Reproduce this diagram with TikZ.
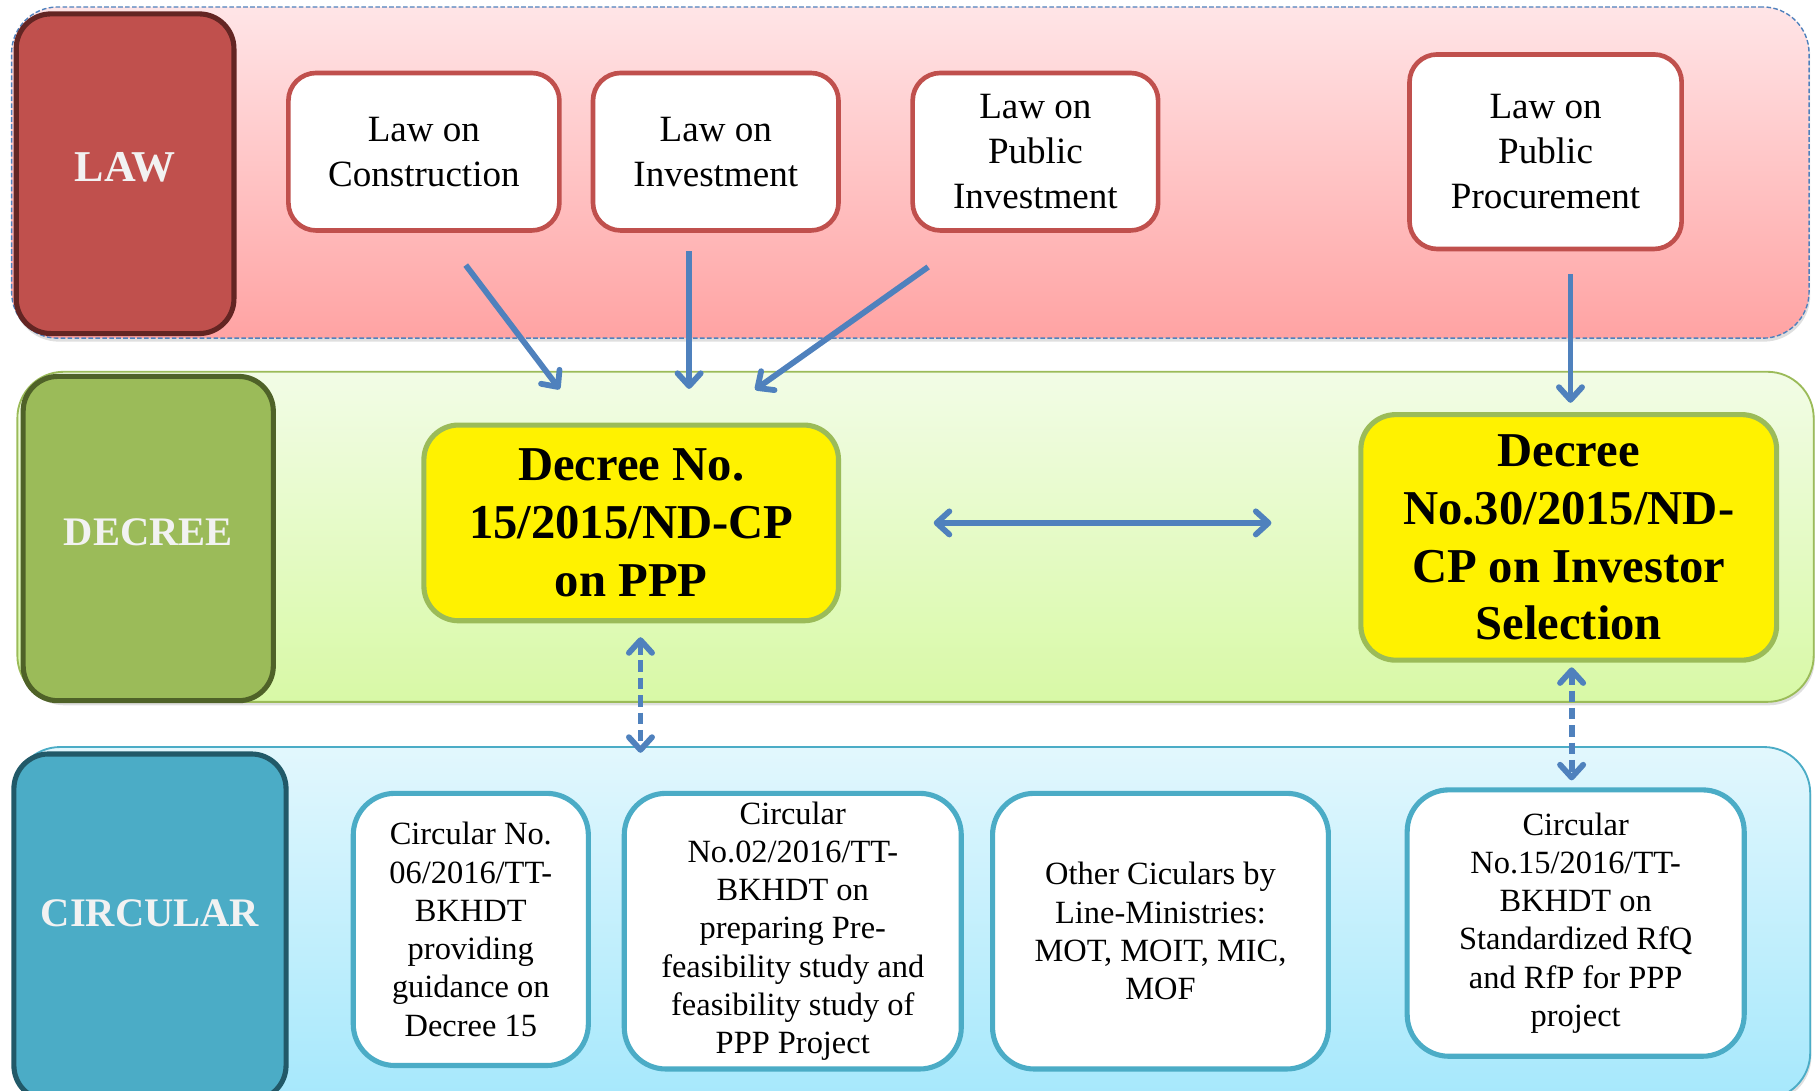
\documentclass[tikz,border=0pt]{standalone}
\usepackage{fontspec}
\setmainfont{Liberation Serif}
\usepackage{xcolor}
\usepackage{tikz}
\usetikzlibrary{arrows.meta}
\usetikzlibrary{calc}
\usetikzlibrary{shadows}

\definecolor{lawred}{RGB}{192,80,77}
\definecolor{lawdark}{RGB}{99,37,35}
\definecolor{lawtop}{RGB}{255,229,231}
\definecolor{lawbot}{RGB}{255,163,163}
\definecolor{decgreen}{RGB}{155,187,89}
\definecolor{decdark}{RGB}{79,98,40}
\definecolor{dectop}{RGB}{242,252,230}
\definecolor{decbot}{RGB}{216,249,166}
\definecolor{cirblue}{RGB}{75,172,198}
\definecolor{cirdark}{RGB}{33,89,104}
\definecolor{cirtop}{RGB}{226,247,253}
\definecolor{cirbot}{RGB}{166,232,252}
\definecolor{arrowblue}{RGB}{79,129,189}
\definecolor{lbltext}{RGB}{242,242,242}

\tikzset{
  band/.style={rounded corners=20pt, inner sep=0pt, drop shadow={shadow xshift=0.5pt, shadow yshift=-1.5pt, opacity=0.25}},
  lbl/.style={rounded corners=15pt, line width=2.2pt, inner sep=0pt, text=lbltext, font=\fontsize{19}{22}\selectfont\bfseries},
  lawbox/.style={draw=lawred, fill=white, line width=2pt, rounded corners=12pt, align=center, inner sep=0pt, font=\fontsize{16}{19.5}\selectfont},
  decbox/.style={draw=decgreen, fill=yellow, line width=2.2pt, rounded corners=15pt, align=center, inner sep=0pt, font=\fontsize{21}{25}\selectfont\bfseries},
  cirbox/.style={draw=cirblue, fill=white, line width=2.2pt, rounded corners=18pt, align=center, inner sep=0pt, font=\fontsize{14}{16.5}\selectfont},
  link/.style={draw=arrowblue, line width=2.5pt, -{Straight Barb[length=5.5pt,width=10pt,round]}},
  twoway/.style={draw=arrowblue, line width=2.5pt, {Straight Barb[length=5.5pt,width=10pt,round]}-{Straight Barb[length=5.5pt,width=10pt,round]}},
}

\begin{document}
\begin{tikzpicture}[x=0.5pt,y=0.5pt,yscale=-1,xscale=1]
\useasboundingbox (0,0) rectangle (1568,942);
\clip (0,0) rectangle (1568,942);

%Shape: Band [id:law]
\node[band, draw=arrowblue, line width=0.6pt, dash pattern=on 2pt off 1pt, top color=lawtop, bottom color=lawbot, minimum width=776pt, minimum height=143pt] (lawband) at (786,149) {};
%Shape: Band [id:decree]
\node[band, draw=decgreen, line width=0.8pt, top color=dectop, bottom color=decbot, minimum width=775.5pt, minimum height=142.5pt] (decband) at (790.5,463.5) {};
%Shape: Band [id:circular]
\node[band, draw=cirblue, line width=0.8pt, top color=cirtop, bottom color=cirbot, minimum width=775.5pt, minimum height=152pt] (cirband) at (787.5,797) {};

%Shape: Label [id:law]
\node[lbl, draw=lawdark, fill=lawred, minimum width=94pt, minimum height=138pt] (lawlbl) at (108,150) {\raisebox{6pt}{LAW}};
%Shape: Label [id:decree]
\node[lbl, draw=decdark, fill=decgreen, minimum width=108pt, minimum height=140pt, font=\fontsize{17.5}{20}\selectfont\bfseries] (declbl) at (128,465) {\raisebox{6pt}{DECREE}};
%Shape: Label [id:circular]
\node[lbl, draw=cirdark, fill=cirblue, minimum width=117.5pt, minimum height=149.5pt, font=\fontsize{17.5}{20}\selectfont\bfseries] (cirlbl) at (129.5,800.5) {\raisebox{12pt}{CIRCULAR}};

% Law nodes
\node[lawbox, minimum width=117pt, minimum height=68pt] (lc) at (366,131) {Law on\\Construction};
\node[lawbox, minimum width=106pt, minimum height=68pt] (li) at (618,131) {Law on\\Investment};
\node[lawbox, minimum width=106pt, minimum height=68pt] (lpi) at (894,131) {Law on\\Public\\Investment};
\node[lawbox, minimum width=117.5pt, minimum height=84pt] (lpp) at (1334.5,131) {Law on\\Public\\Procurement};

% Decree nodes
\node[decbox, minimum width=179pt, minimum height=84.5pt] (d15) at (545,451.5) {Decree No.\\15/2015/ND-CP\\on PPP};
\node[decbox, minimum width=179.5pt, minimum height=106pt] (d30) at (1354.5,464) {Decree\\No.30/2015/ND-\\CP on Investor\\Selection};

% Circular nodes
\node[cirbox, minimum width=101.5pt, minimum height=117.5pt] (c1) at (406.5,802.5) {Circular No.\\06/2016/TT-\\BKHDT\\providing\\guidance on\\Decree 15};
\node[cirbox, minimum width=145.5pt, minimum height=119pt] (c2) at (684.5,804) {Circular\\No.02/2016/TT-\\BKHDT on\\preparing Pre-\\feasibility study and\\feasibility study of\\PPP Project};
\node[cirbox, minimum width=145pt, minimum height=119pt] (c3) at (1002,804) {Other Ciculars by\\Line-Ministries:\\MOT, MOIT, MIC,\\MOF};
\node[cirbox, minimum width=145.5pt, minimum height=115pt] (c4) at (1360.5,797) {Circular\\No.15/2016/TT-\\BKHDT on\\Standardized RfQ\\and RfP for PPP\\project};

%Straight Lines [id:law to decree]
\draw[link, shorten <=17.5pt, shorten >=18pt] ($(lc.south)+(15,0)$) -- ($(d15.north)+(-40,0)$);
\draw[link, shorten <=8pt, shorten >=14.5pt] ($(li.south)+(-23,0)$) -- ($(d15.north)+(50,0)$);
\draw[link, shorten <=25.5pt, shorten >=24.5pt] ($(lpi.south)+(-51,0)$) -- ($(d15.north)+(67,0)$);
\draw[link, shorten <=10pt, shorten >=4pt] ($(lpp.south)+(21.5,0)$) -- ($(d30.north)+(1.5,0)$);

%Straight Lines [id:decree to decree]
\draw[twoway, shorten <=40pt, shorten >=37.5pt] (d15.east) -- (d30.west |- d15.east);

%Straight Lines [id:decree to circular]
\coordinate (c15in) at (553,650);
\draw[twoway, dash pattern=on 5pt off 2.5pt, shorten <=6pt] ($(d15.south)+(8,0)$) -- (c15in);
\draw[twoway, dash pattern=on 5pt off 2.5pt, shorten <=2pt, shorten >=3pt] ($(d30.south)+(2.5,0)$) -- ($(c4.north)+(-3.5,0)$);

\end{tikzpicture}
\end{document}
